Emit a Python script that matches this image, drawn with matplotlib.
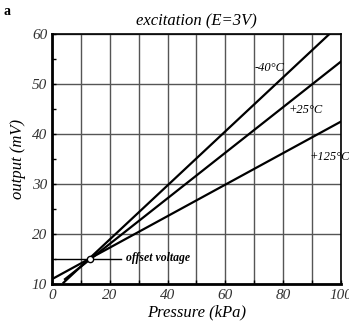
import matplotlib
matplotlib.use("Agg")
import matplotlib.pyplot as plt
from matplotlib.ticker import MultipleLocator

plt.rcParams['font.family'] = ['Liberation Serif', 'DejaVu Serif']

# Data (endpoints of straight-line characteristics)
p_m40 = [4, 96]
v_m40 = [10.3, 60]
p_25 = [4.5, 100]
v_25 = [11.0, 54.5]
p_125 = [0, 100]
v_125 = [11.0, 42.5]
labels = ["-40°C", "+25°C", "+125°C"]
label_pos = [(70, 53.3), (82, 44.8), (89, 35.4)]
offset_x = [1, 24]
offset_y = [15, 15]
offset_pt = (13, 15)

fig = plt.figure(figsize=(3.49, 3.24), dpi=100)
ax = fig.add_axes([0.149, 0.123, 0.828, 0.772])

ax.set_xlim(0, 100)
ax.set_ylim(10, 60)
ax.xaxis.set_major_locator(MultipleLocator(20))
ax.xaxis.set_minor_locator(MultipleLocator(10))
ax.yaxis.set_major_locator(MultipleLocator(10))
ax.yaxis.set_minor_locator(MultipleLocator(5))
ax.grid(True, which='major', color='#555555', lw=1.0)
ax.grid(True, which='minor', axis='x', color='#555555', lw=1.0)

for s in ax.spines.values():
    s.set_linewidth(1.2)
ax.spines['left'].set_linewidth(2)
ax.spines['bottom'].set_linewidth(2)

ax.tick_params(which='both', direction='in', length=3, width=1)
ax.tick_params(labelsize=11)
for t in ax.get_xticklabels() + ax.get_yticklabels():
    t.set_fontstyle('italic')
    t.set_color('#333333')

for px, vy in [(p_m40, v_m40), (p_25, v_25), (p_125, v_125)]:
    ax.plot(px, vy, color='black', lw=1.6, zorder=3)

for lab, (x, y) in zip(labels, label_pos):
    ax.text(x, y, lab, fontsize=9, fontstyle='italic', ha='left', va='center',
            zorder=4)

ax.plot(offset_x, offset_y, color='black', lw=1.0, zorder=3)
ax.plot([offset_pt[0]], [offset_pt[1]], marker='o', ms=4.5, mfc='white',
        mec='black', mew=1.0, zorder=5)
ax.text(offset_x[1] + 1.5, 15.2, "offset voltage", fontsize=8.5,
        fontstyle='italic', fontweight='bold', ha='left', va='center')

ax.set_title("excitation (E=3V)", fontsize=12, fontstyle='italic', pad=6)
ax.set_xlabel("Pressure (kPa)", fontsize=12, fontstyle='italic', labelpad=2)
ax.set_ylabel("output (mV)", fontsize=12, fontstyle='italic', labelpad=4)

fig.text(0.01, 0.985, "a", fontsize=10, fontweight='bold', va='top')

fig.savefig("out.png", dpi=100)
